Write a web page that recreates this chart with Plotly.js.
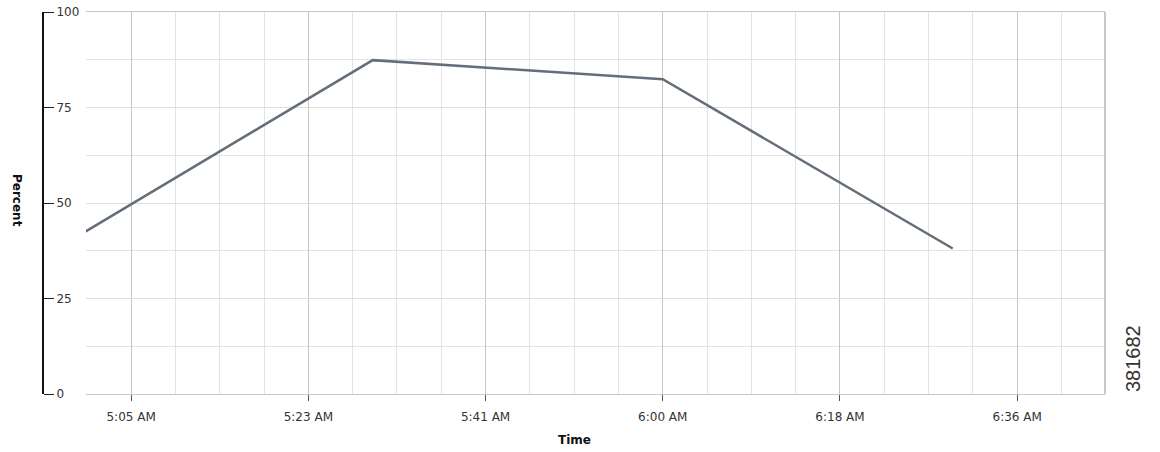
<!DOCTYPE html>
<html>
<head>
<meta charset="utf-8">
<script src="https://cdn.plot.ly/plotly-3.0.1.min.js"></script>
<style>
  html, body { margin: 0; padding: 0; background: #fff; }
  #chart { width: 1160px; height: 452px; }
</style>
</head>
<body>
<div id="chart"></div>
<script>
const times = ['2024-01-01 05:00:00', '2024-01-01 05:30:00', '2024-01-01 06:00:00', '2024-01-01 06:30:00'];
const percent = [42.1, 87.4, 82.4, 38.1];
const yTicks = [0, 25, 50, 75, 100];
const xTickStart = '2024-01-01 05:05:00';
const xTickStepMs = 1100000;      // 18 min 20 s between labelled ticks
const xMinorStepMs = 275000;      // four minor divisions per major
const xRange = ['2024-01-01 05:00:20', '2024-01-01 06:45:45'];
const sideLabel = '381682';

const W = 1160, L = 40, R = 55;
const paperW = W - L - R;
const plotLeftPx = 86, axisLinePx = 43;

const trace = {
  x: times, y: percent, type: 'scatter', mode: 'lines',
  line: { color: '#646e7a', width: 2.5 },
  hoverinfo: 'skip'
};

const layout = {
  width: 1160, height: 452,
  margin: { l: L, r: R, t: 12, b: 58 },
  paper_bgcolor: '#ffffff', plot_bgcolor: '#ffffff',
  showlegend: false,
  font: { family: 'DejaVu Sans, Verdana, sans-serif', size: 12, color: '#333333' },
  xaxis: {
    type: 'date',
    domain: [(plotLeftPx - L) / paperW, 1],
    range: xRange,
    tick0: xTickStart, dtick: xTickStepMs,
    tickformat: '%-I:%M %p',
    ticks: 'outside', ticklen: 6, tickcolor: '#555555', tickwidth: 1,
    ticklabelstandoff: 6,
    showgrid: true, gridcolor: '#c6c6c6', gridwidth: 1,
    minor: { dtick: xMinorStepMs, tick0: xTickStart, showgrid: true, gridcolor: '#e3e3e3', gridwidth: 1, ticks: '' },
    showline: true, linecolor: '#c8c8c8', linewidth: 1, mirror: true,
    zeroline: false,
    tickfont: { size: 12, color: '#333333' }
  },
  yaxis: {
    range: [0, 100],
    tickvals: yTicks,
    anchor: 'free', position: (axisLinePx - L) / paperW, side: 'right',
    ticks: 'outside', ticklen: 10, tickcolor: '#222222', tickwidth: 1,
    showline: true, linecolor: '#111111', linewidth: 2,
    showgrid: true, gridcolor: '#dedede', gridwidth: 1,
    minor: { dtick: 12.5, showgrid: true, gridcolor: '#e3e3e3', gridwidth: 1, ticks: '' },
    zeroline: false,
    tickfont: { size: 12, color: '#333333' }
  },
  shapes: [
    { type: 'line', xref: 'x domain', yref: 'y domain', x0: 1, x1: 1, y0: 0, y1: 1,
      line: { color: '#c8c8c8', width: 2 } }
  ],
  annotations: [
    { text: '<b>Percent</b>', textangle: 90, xref: 'paper', yref: 'paper',
      x: (17 - L) / paperW, y: (452 - 58 - 200) / (452 - 12 - 58), xanchor: 'center', yanchor: 'middle',
      showarrow: false, font: { size: 12, color: '#111111' } },
    { text: '<b>Time</b>', xref: 'paper', yref: 'paper',
      x: (574 - L) / paperW, y: -(440 - 394) / (452 - 12 - 58), xanchor: 'center', yanchor: 'middle',
      showarrow: false, font: { size: 12, color: '#111111' } },
    { text: sideLabel, textangle: -90, xref: 'paper', yref: 'paper',
      x: (1133 - L) / paperW, y: (394 - 358) / (452 - 12 - 58), xanchor: 'center', yanchor: 'middle',
      showarrow: false, font: { family: 'Liberation Sans, Arial, sans-serif', size: 20, color: '#333333' } }
  ]
};

Plotly.newPlot('chart', [trace], layout, { displayModeBar: false, staticPlot: true });
</script>
</body>
</html>
